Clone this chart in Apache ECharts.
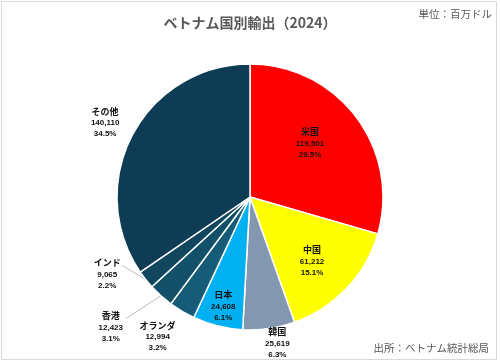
<!DOCTYPE html>
<html><head><meta charset="utf-8">
<script src="https://cdn.jsdelivr.net/npm/echarts@6/dist/echarts.min.js"></script>
<style>html,body{margin:0;padding:0;background:#fff}#c{width:500px;height:362px}</style>
</head><body><div id="c"></div>
<script>
const categories = ['米国','中国','韓国','日本','オランダ','香港','インド','その他'];
const values = [119501, 61212, 25619, 24608, 12994, 12423, 9065, 140110];
const colors = ['#ff0000','#ffff00','#8497b0','#00b0f0','#165b78','#135069','#11465f','#0e3c55'];
// label placement (style): [radius factor, angle offset deg]
const labelPlace = [[0.607,-5],[0.67,2.6],[1.117,-2.4],[0.843,-0.3],[1.256,2.8],[1.43,5],[1.218,10.2],[1.226,-0.5]];
const leaderItems = [5, 6];
const cx = 250, cy = 197, R = 133;

const chart = echarts.init(document.getElementById('c'), null, {renderer:'canvas'});
const total = values.reduce((a,b)=>a+b,0);
const mids = []; let acc = 0;
values.forEach(v=>{ mids.push((acc + v/2)/total*360); acc += v; });
function labelPos(i){
  const pl=labelPlace[i], a=(mids[i]+pl[1])*Math.PI/180, r=R*pl[0];
  return [cx+r*Math.sin(a), cy-r*Math.cos(a)];
}
function edgePt(i){
  const a = mids[i]*Math.PI/180;
  return [cx+R*Math.sin(a), cy-R*Math.cos(a)];
}
const fnt = '"Liberation Sans","Noto Sans CJK JP",sans-serif';
const jp = '"Noto Sans CJK JP",sans-serif';
chart.setOption({
  animation:false,
  title:{text:'ベトナム国別輸出（2024）',left:245,top:11,textAlign:'center',
    textStyle:{fontSize:14,fontWeight:'bold',color:'#595959',fontFamily:jp}},
  graphic:{elements:[
    {type:'rect',shape:{x:1.5,y:1.5,width:495,height:358},style:{fill:'none',stroke:'#d9d9d9',lineWidth:1}},
    {type:'text',right:8,top:9,style:{text:'単位：百万ドル',fontSize:10.5,fill:'#595959',fontFamily:jp}},
    {type:'text',right:11,top:343,style:{text:'出所：ベトナム統計総局',fontSize:10.5,fill:'#595959',fontFamily:jp}}
  ]},
  series:[{
    type:'pie',center:[cx,cy],radius:[0,R],startAngle:90,clockwise:true,
    percentPrecision:1, z:2,
    itemStyle:{borderColor:'#fff',borderWidth:1.5},
    data:categories.map((n,i)=>({name:n,value:values[i],itemStyle:{color:colors[i]}})),
    label:{position:'inside',
      formatter:p=>'{n|'+p.name+'}\n{v|'+p.value.toLocaleString('en-US')+'}\n{v|'+p.percent.toFixed(1)+'%}',
      rich:{n:{fontSize:9,fontWeight:'bold',color:'#111',fontFamily:jp,lineHeight:13},
            v:{fontSize:8,fontWeight:'bold',color:'#111',fontFamily:fnt,lineHeight:11}}},
    labelLine:{show:false},
    labelLayout:function(p){
      const lp = labelPos(p.dataIndex);
      return {x:lp[0], y:lp[1], align:'center', verticalAlign:'middle'};
    }
  },{
    type:'custom', coordinateSystem:'none', silent:true, z:1,
    data:leaderItems,
    renderItem:function(params, api){
      const i = leaderItems[params.dataIndex];
      const lp = labelPos(i), e = edgePt(i);
      return {type:'line', shape:{x1:lp[0]+15, y1:lp[1]-8, x2:e[0], y2:e[1]},
        style:{stroke:'#bdbdbd', lineWidth:1}};
    }
  }]
});
</script></body></html>
